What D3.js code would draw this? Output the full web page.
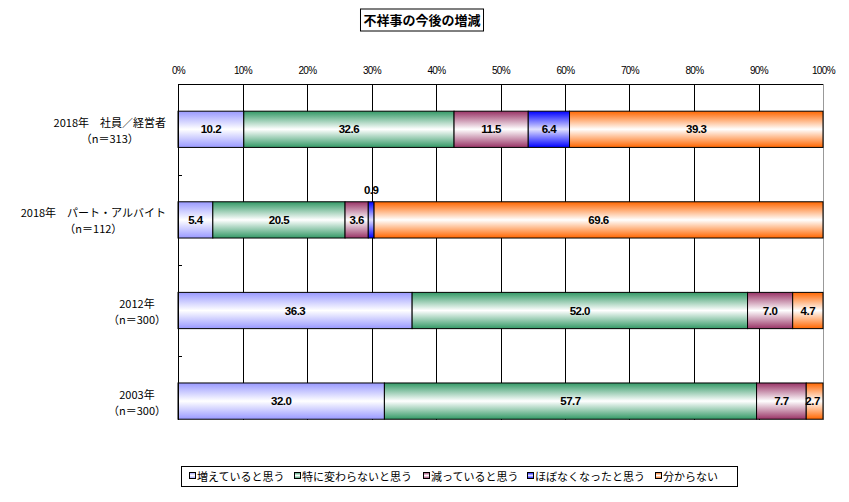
<!DOCTYPE html>
<html><head><meta charset="utf-8">
<script src="https://cdn.jsdelivr.net/npm/d3@7"></script>
<style>
body{margin:0;background:#fff;}
svg{display:block;font-family:"Noto Sans CJK JP","Noto Sans",sans-serif;}
</style></head>
<body>
<svg id="c" width="849" height="502"></svg>
<script>
const title = "不祥事の今後の増減";
const categories = ["2018年　社員／経営者", "2018年　パート・アルバイト", "2012年", "2003年"];
const sampleSizes = ["（n＝313）", "（n＝112）", "（n＝300）", "（n＝300）"];
const seriesNames = ["増えていると思う", "特に変わらないと思う", "減っていると思う", "ほぼなくなったと思う", "分からない"];
const seriesColors = ["#9999ff", "#339966", "#993366", "#0000ff", "#ff6600"];
const values = [
  [10.2, 32.6, 11.5, 6.4, 39.3],
  [5.4, 20.5, 3.6, 0.9, 69.6],
  [36.3, 52.0, 7.0, 0, 4.7],
  [32.0, 57.7, 7.7, 0, 2.7]
];
const tickValues = [0,10,20,30,40,50,60,70,80,90,100];

const svg = d3.select("#c");
const L = 178, R = 823, T = 84, B = 420;
const x = d3.scaleLinear().domain([0,100]).range([L,R]).clamp(true);
const y = d3.scaleBand().domain(categories).range([T, T + 4*90.6]).paddingInner(0.6).paddingOuter(0.3);

// gradients
const defs = svg.append("defs");
seriesColors.forEach((c,i)=>{
  const g = defs.append("linearGradient").attr("id","g"+i).attr("x1",0).attr("y1",0).attr("x2",0).attr("y2",1);
  const mid = i===3 ? "#e0e0ff" : "#ffffff";
  g.append("stop").attr("offset","0%").attr("stop-color",c);
  g.append("stop").attr("offset","50%").attr("stop-color",mid);
  g.append("stop").attr("offset","100%").attr("stop-color",c);
});

// title
const tt = svg.append("text").attr("x",422).attr("y",25).attr("text-anchor","middle")
  .attr("font-size",13).attr("font-weight","bold").text(title);
const tb = tt.node().getBBox();
svg.insert("rect","text").attr("x",tb.x-3).attr("y",9).attr("width",tb.width+6).attr("height",22)
  .attr("fill","#fff").attr("stroke","#000").attr("stroke-width",1);

// gridlines
svg.append("g").selectAll("line").data(tickValues.slice(1,-1)).join("line")
  .attr("x1",d=>Math.round(x(d))+0.5).attr("x2",d=>Math.round(x(d))+0.5)
  .attr("y1",T).attr("y2",B).attr("stroke","#000").attr("stroke-width",1);
// top border
svg.append("line").attr("x1",L).attr("x2",R).attr("y1",T+0.5).attr("y2",T+0.5).attr("stroke","#000");
// right border
svg.append("line").attr("x1",R+0.5).attr("x2",R+0.5).attr("y1",T).attr("y2",B).attr("stroke","#999");

// top axis labels
const ax = d3.axisTop(x).tickValues(tickValues).tickFormat(d=>d+"%").tickSize(0).tickPadding(0);
const axg = svg.append("g").attr("transform",`translate(0,74)`).call(ax);
axg.select(".domain").remove();
axg.selectAll("text").attr("font-size",10).attr("font-family","'Liberation Sans',sans-serif").attr("letter-spacing","-0.6");

// bars
const stacks = values.map((row,ci)=>{
  let acc=0;
  return row.map((v,si)=>{const s={ci,si,v,x0:acc,x1:acc+v}; acc+=v; return s;});
});
const barG = svg.append("g");
stacks.forEach((row,ci)=>{
  barG.selectAll(null).data(row.filter(d=>d.v>0)).join("rect")
    .attr("x",d=>x(d.x0)).attr("width",d=>x(d.x1)-x(d.x0))
    .attr("y",y(categories[ci])).attr("height",y.bandwidth())
    .attr("fill",d=>`url(#g${d.si})`).attr("stroke","#000").attr("stroke-width",1);
});
// left axis
svg.append("line").attr("x1",L+0.5).attr("x2",L+0.5).attr("y1",T).attr("y2",B).attr("stroke","#000");
// category ticks
const bounds = [1,2,3].map(i=>T + i*90.6);
svg.append("g").selectAll("line").data(bounds).join("line")
  .attr("x1",L).attr("x2",L+4).attr("y1",d=>Math.round(d)+0.5).attr("y2",d=>Math.round(d)+0.5).attr("stroke","#000");

// value labels
stacks.forEach((row,ci)=>{
  const cy = y(categories[ci]) + y.bandwidth()/2;
  barG.selectAll(null).data(row.filter(d=>d.v>0)).join("text")
    .attr("x",d=>{const cx=(x(d.x0)+x(d.x1))/2; return d.v<3 && d.si===4 ? cx-2 : cx;})
    .attr("y",d=> d.v<1 ? y(categories[ci]) - 8 : cy+4)
    .attr("text-anchor","middle").attr("font-size",11.5).attr("font-weight","bold")
    .attr("font-family","'Liberation Sans',sans-serif").attr("letter-spacing","-0.5")
    .text(d=>d.v.toFixed(1));
});

// category labels
categories.forEach((c,i)=>{
  const cy = y(c) + y.bandwidth()/2;
  const g = svg.append("g");
  const t1 = g.append("text").attr("y",cy-2.5).attr("font-size",11).text(c);
  const t2 = g.append("text").attr("y",cy+13.5).attr("font-size",11).text(sampleSizes[i]);
  const w = Math.max(t1.node().getComputedTextLength(), t2.node().getComputedTextLength());
  const center = 166 - w/2;
  t1.attr("x",center).attr("text-anchor","middle");
  t2.attr("x",center).attr("text-anchor","middle");
});

// legend
svg.append("rect").attr("x",181.5).attr("y",466.5).attr("width",556).attr("height",20)
  .attr("fill","#fff").attr("stroke","#000");
const legX = [197, 302, 431, 535, 663];
seriesNames.forEach((n,i)=>{
  svg.append("rect").attr("x",legX[i]-7.5).attr("y",472.5).attr("width",6).attr("height",6)
    .attr("fill",`url(#g${i})`).attr("stroke","#000").attr("stroke-width",1);
  svg.append("text").attr("x",legX[i]).attr("y",481).attr("font-size",11).text(n);
});
</script>
</body></html>
